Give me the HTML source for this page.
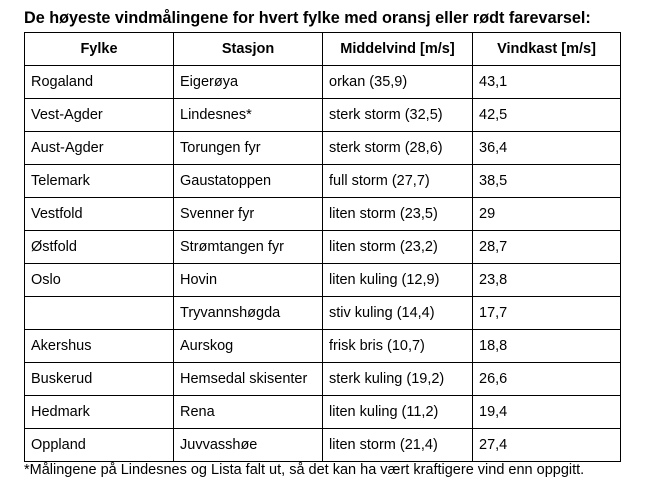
<!DOCTYPE html>
<html><head><meta charset="utf-8"><style>
body{margin:0;width:646px;height:491px;background:#fff;font-family:"Liberation Sans",sans-serif;color:#000;position:relative;overflow:hidden}
#title{position:absolute;left:24px;top:9px;font-size:16.2px;font-weight:bold;white-space:nowrap}
table{position:absolute;left:24px;top:32px;border-collapse:collapse;table-layout:fixed;font-size:14.5px}
td,th{border:1px solid #000;height:32px;padding:0 0 0 6px;white-space:nowrap;vertical-align:middle;text-align:left}
th{text-align:center;padding:0}
#foot{position:absolute;left:24px;top:462px;font-size:14.5px;white-space:nowrap}
</style></head><body>
<div id="title">De høyeste vindmålingene for hvert fylke med oransj eller rødt farevarsel:</div>
<table>
<colgroup><col style="width:149px"><col style="width:149px"><col style="width:150px"><col style="width:148px"></colgroup>
<tr><th>Fylke</th><th>Stasjon</th><th>Middelvind [m/s]</th><th>Vindkast [m/s]</th></tr>
<tr><td>Rogaland</td><td>Eigerøya</td><td>orkan (35,9)</td><td>43,1</td></tr>
<tr><td>Vest-Agder</td><td>Lindesnes*</td><td>sterk storm (32,5)</td><td>42,5</td></tr>
<tr><td>Aust-Agder</td><td>Torungen fyr</td><td>sterk storm (28,6)</td><td>36,4</td></tr>
<tr><td>Telemark</td><td>Gaustatoppen</td><td>full storm (27,7)</td><td>38,5</td></tr>
<tr><td>Vestfold</td><td>Svenner fyr</td><td>liten storm (23,5)</td><td>29</td></tr>
<tr><td>Østfold</td><td>Strømtangen fyr</td><td>liten storm (23,2)</td><td>28,7</td></tr>
<tr><td>Oslo</td><td>Hovin</td><td>liten kuling (12,9)</td><td>23,8</td></tr>
<tr><td></td><td>Tryvannshøgda</td><td>stiv kuling (14,4)</td><td>17,7</td></tr>
<tr><td>Akershus</td><td>Aurskog</td><td>frisk bris (10,7)</td><td>18,8</td></tr>
<tr><td>Buskerud</td><td>Hemsedal skisenter</td><td>sterk kuling (19,2)</td><td>26,6</td></tr>
<tr><td>Hedmark</td><td>Rena</td><td>liten kuling (11,2)</td><td>19,4</td></tr>
<tr><td>Oppland</td><td>Juvvasshøe</td><td>liten storm (21,4)</td><td>27,4</td></tr>
</table>
<div id="foot">*Målingene på Lindesnes og Lista falt ut, så det kan ha vært kraftigere vind enn oppgitt.</div>
</body></html>
